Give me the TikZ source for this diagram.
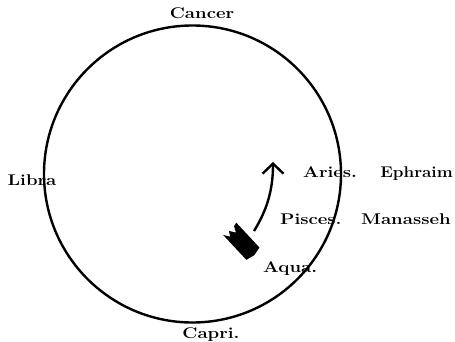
\documentclass[tikz,border=0pt]{standalone}
\usetikzlibrary{arrows.meta}

\newcommand{\widetext}[1]{\scalebox{1.2}[1]{#1}}

\begin{document}
\begin{tikzpicture}[x=1pt, y=-1pt,
  sign/.style={font=\fontsize{15.5}{18}\selectfont\bfseries, inner sep=0pt},
  orbit/.style={draw, line width=2.4pt},
  shaft/.style={line width=2.4pt, -{Straight Barb[length=10pt, width=21pt, line width=2.4pt]}}
]
\useasboundingbox (0,0) rectangle (455,342);

% ---- Tierkreis ----
\node[orbit, circle, minimum size=297pt, inner sep=0pt] (zodiac) at (192.5,174) {};

% ---- Zeichen ----
\node[sign, anchor=base] (cancer) at (202,19) {\widetext{Cancer}};
\node[sign, anchor=base] (libra) at (32,185) {\widetext{Libra}};
\node[sign, anchor=base] (capri) at (211,338) {\widetext{Capri.}};
\node[sign, anchor=base west] (aries) at (303,177) {\widetext{Aries.}};
\node[sign, anchor=base east] (ephraim) at (453,177) {\scalebox{1.1}[1]{Ephraim}};
\node[sign, anchor=base west] (pisces) at (280,224) {\widetext{Pisces.}};
\node[sign, anchor=base west] (manasseh) at (361,224) {\widetext{Manasseh}};
\node[sign, anchor=base west] (aqua) at (263,272) {\widetext{Aqua.}};

% ---- Pfeil ----
\coordinate (tail) at (254,231);
\coordinate (tip) at (273,162);
\draw[shaft] (tail) .. controls (267,210) and (273,190) .. (tip);
\fill[rotate around={-47:(242,242)}]
  (224,233) -- (258,233) -- (260,242) -- (258,251) -- (224,251)
  -- (230,247) -- (225,244) -- (231,240) -- (225,237) -- cycle;

\end{tikzpicture}
\end{document}
